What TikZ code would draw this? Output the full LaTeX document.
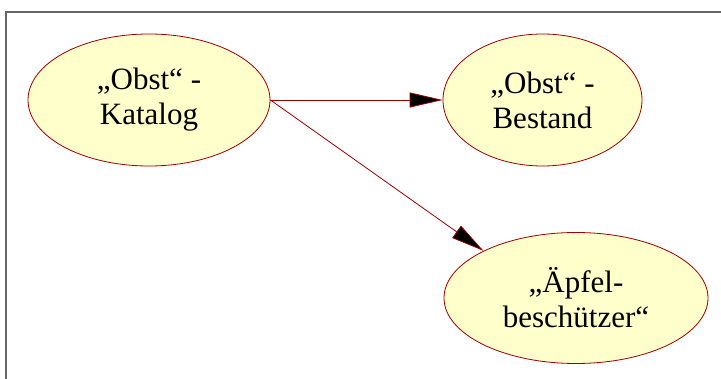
\documentclass[tikz,border=0pt]{standalone}
\usepackage{fontspec}
\setmainfont{Liberation Serif}
\usetikzlibrary{arrows.meta,shapes.geometric}
\definecolor{ovalfill}{HTML}{FFFFCC}
\definecolor{ovalline}{HTML}{990000}

\begin{document}
\begin{tikzpicture}
  [x=1pt,y=-1pt,
   main node/.style={ellipse,draw=ovalline,fill=ovalfill,line width=0.8pt,inner sep=0pt,align=center,font=\fontsize{31}{35}\selectfont},
   link/.style={draw=ovalline,line width=0.8pt,-{Triangle[length=33pt,width=15pt,fill=black]}}]
  \useasboundingbox (0,0) rectangle (721,379);
  \draw[black!60,line width=1.2pt] (721,12) -- (6,12) -- (6,379);

\node[main node,minimum width=242pt,minimum height=132pt] (kat) at (149,100) {„Obst“ -\\Katalog};
\node[main node,minimum width=199pt,minimum height=132pt] (bes) at (542.5,100) {„Obst“ -\\Bestand};
\node[main node,minimum width=264pt,minimum height=131pt] (apf) at (576,298) {„Äpfel-\\beschützer“};

  \draw[link] (kat.east) -- (bes);
  \draw[link] (kat.east) -- (apf.153);

\end{tikzpicture}
\end{document}
